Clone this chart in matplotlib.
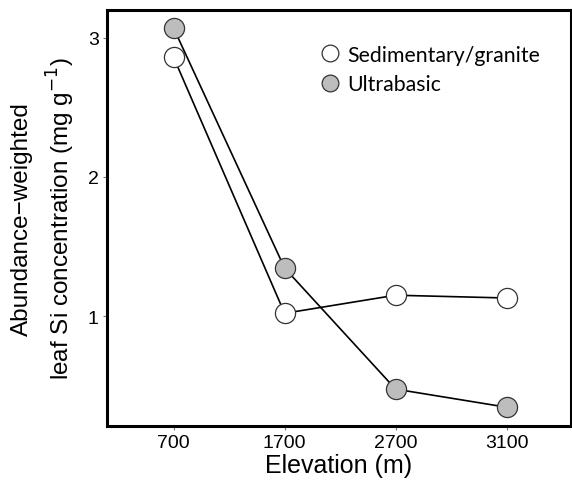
import numpy as np
import matplotlib.pyplot as plt

# dati
elevazioni = ['700', '1700', '2700', '3100']
sedimentary = [2.86, 1.02, 1.15, 1.13]
ultrabasic = [3.07, 1.345, 0.475, 0.345]

plt.rcParams['font.family'] = ['Liberation Sans', 'DejaVu Sans']

fig = plt.figure(figsize=(5.72, 4.81), dpi=100)
ax = fig.add_axes([107/572, 1-427/481, (571-107)/572, (427-11)/481])

x = np.arange(len(elevazioni))
ax.plot(x, sedimentary, color='black', lw=1.2, marker='o', ms=14.5,
        mfc='white', mec='#333333', mew=0.9, label='Sedimentary/granite', zorder=3)
ax.plot(x, ultrabasic, color='black', lw=1.2, marker='o', ms=14.5,
        mfc='#bdbdbd', mec='#333333', mew=0.9, label='Ultrabasic', zorder=3)

ax.set_xlim(-0.6, 3.58)
ax.set_ylim(0.21, 3.2)
ax.set_xticks(x)
ax.set_xticklabels(elevazioni)
ax.set_yticks([1, 2, 3])
ax.set_yticklabels(['1', '2', '3'])
ax.tick_params(length=3, width=0.8, color='#777777', labelsize=14, pad=3)

for s in ax.spines.values():
    s.set_linewidth(2.2)

ax.set_xlabel('Elevation (m)', fontsize=18, labelpad=1)
ax.set_ylabel('Abundance\u2212weighted\nleaf Si concentration (mg g$^{-1}$)',
              fontsize=17.5, labelpad=8, linespacing=1.45)

leg = ax.legend(loc='upper left', bbox_to_anchor=(311/572, 1-35/481),
                bbox_transform=fig.transFigure, frameon=False, borderpad=0,
                handlelength=0.8, handletextpad=0.4, labelspacing=0.45,
                markerscale=0.83, prop={'family': 'Lato', 'size': 15.3})
for h in leg.legend_handles:
    h.set_linestyle('')

plt.savefig('out.png', dpi=100)
